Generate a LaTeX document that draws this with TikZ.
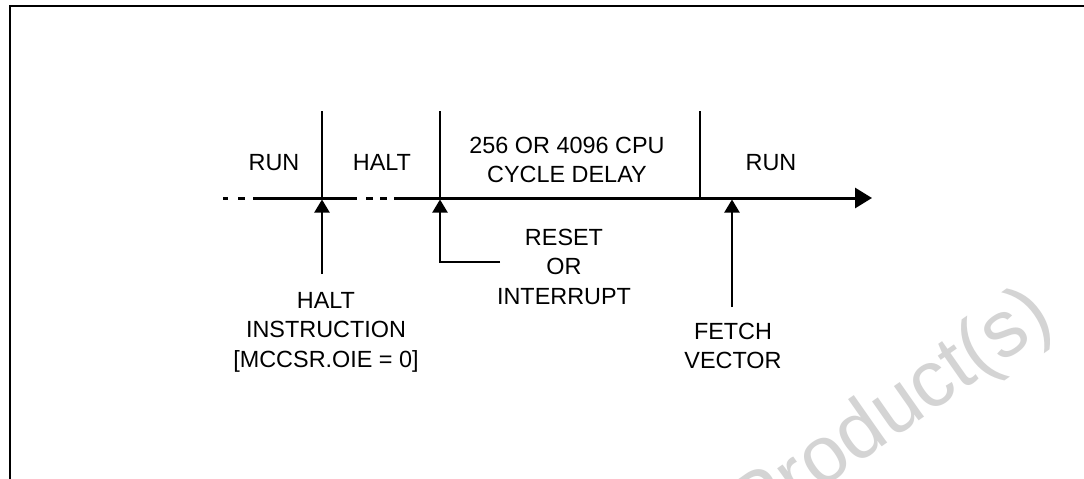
\documentclass[tikz,border=0pt]{standalone}
\usepackage{fontspec}
\setmainfont{Liberation Sans}
\usetikzlibrary{arrows.meta}
\begin{document}
\begin{tikzpicture}[x=1pt,y=-1pt,
  lbl/.style={inner sep=0pt,outer sep=0pt,align=center,anchor=north,
    font=\fontsize{23.4}{29.5}\selectfont},
  divider/.style={line width=2pt},
  tline/.style={line width=3pt},
  uparrow/.style={line width=2pt,-{Triangle[length=13pt,width=15pt]}},
  frame/.style={line width=2pt},
  wmark/.style={text=black!17,font=\fontsize{80}{80}\selectfont,rotate=35,inner sep=0pt}
]
\clip (0,0) rectangle (1084,479);
\fill[white] (0,0) rectangle (1084,479);
% watermark
\node[wmark] (wm) at (893,414) {Product(s)};
% frame
\draw[frame] (10,479) -- (10,5.5) -- (1090,5.5);
% timeline
\coordinate (tend) at (872,198);
\draw[tline] (223,198) -- (228,198);
\draw[tline] (238,198) -- (245,198);
\draw[tline] (253,198) -- (357,198);
\draw[tline] (366,198) -- (373,198);
\draw[tline] (380,198) -- (387,198);
\draw[tline,-{Triangle[length=17pt,width=20pt]}] (394,198) -- (tend);
% dividers
\coordinate (d1t) at (322,111); \coordinate (d1b) at (322,198);
\coordinate (d2t) at (440,111); \coordinate (d2b) at (440,198);
\coordinate (d3t) at (700,111); \coordinate (d3b) at (700,198);
\draw[divider] (d1t) -- (d1b);
\draw[divider] (d2t) -- (d2b);
\draw[divider] (d3t) -- (d3b);
% phase labels
\node[lbl] (run1) at (274,154) {RUN};
\node[lbl] (halt) at (382,154) {HALT};
\node[lbl] (delay) at (567,137) {256 OR 4096 CPU\\CYCLE DELAY};
\node[lbl] (run2) at (771,154) {RUN};
% event labels
\node[lbl] (haltinstr) at (326,292) {HALT\\INSTRUCTION\\{[}MCCSR.OIE = 0{]}};
\node[lbl] (reset) at (564,229) {RESET\\OR\\INTERRUPT};
\node[lbl] (fetch) at (733,323) {FETCH\\VECTOR};
% event arrows
\coordinate (a1s) at (322,274); \coordinate (a1e) at (322,199.5);
\coordinate (a2s) at (500,262); \coordinate (a2c) at (440,262); \coordinate (a2e) at (440,199.5);
\coordinate (a3s) at (732,307); \coordinate (a3e) at (732,199.5);
\draw[uparrow] (a1s) -- (a1e);
\draw[uparrow] (a2s) -- (a2c) -- (a2e);
\draw[uparrow] (a3s) -- (a3e);
\end{tikzpicture}
\end{document}
